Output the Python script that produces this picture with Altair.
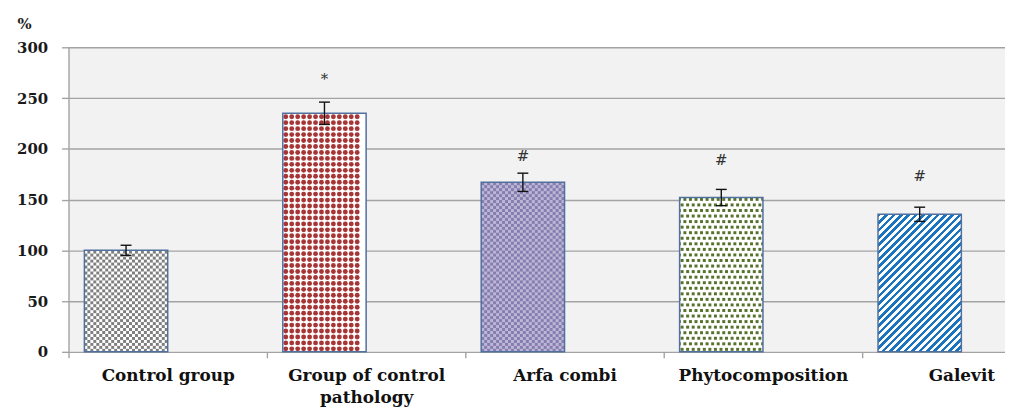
import altair as alt
import pandas as pd
import numpy as np

# ---------------- data ----------------
groups = ["Control group", "Group of control pathology", "Arfa combi",
          "Phytocomposition", "Galevit"]
label_lines = [["Control group"], ["Group of control", "pathology"], ["Arfa combi"],
               ["Phytocomposition"], ["Galevit"]]
means = [100, 235, 167, 152, 135.5]
errors = [5, 11, 9, 8, 7]
sig_marks = ["", "*", "#", "#", "#"]
sig_y = [0, 269, 193, 189, 173]
y_ticks = [0, 50, 100, 150, 200, 250, 300]

# ---------------- style ----------------
W, H = 944, 307
RANGE_X = 1000.0                # 5 categories of 200 px (the right edge is cut off)
PX_X = RANGE_X / len(groups)    # px per category unit
PX_Y = H / 300.0                # px per y unit
BAR_L, BAR_R = 0.08, 0.50       # bar sits in the left half of each category
SERIF = "DejaVu Serif"
GRID = "#a3a3a3"
OUTLINE = "#50709f"

n = len(groups)
xl = [i + BAR_L for i in range(n)]
xr = [i + BAR_R for i in range(n)]
xc = [(a + b) / 2 for a, b in zip(xl, xr)]
cap = 5.5 / PX_X

bars = pd.DataFrame({
    "group": groups, "mean": means, "base": [0] * n,
    "xl": xl, "xr": xr, "xc": xc,
    "lo": [m - e for m, e in zip(means, errors)],
    "hi": [m + e for m, e in zip(means, errors)],
    "cl": [c - cap for c in xc], "cr": [c + cap for c in xc],
    "fill": ["#ffffff", "#ffffff", "#bdb7d6", "#ffffff", "#ffffff"],
    "sig": sig_marks, "sig_y": sig_y,
})

# ---------------- pattern cells (built from the bar values) ----------------
cells = []


def checker(i, cell, color):
    x0, x1, top = xl[i], xr[i], means[i]
    for r in range(int(np.ceil(top * PX_Y / cell))):
        for c in range(int(np.ceil((x1 - x0) * PX_X / cell))):
            if (r + c) % 2:
                continue
            xa = x0 + c * cell / PX_X
            ya = r * cell / PX_Y
            cells.append(dict(x=xa, x2=min(x1, xa + cell / PX_X),
                              y=ya, y2=min(top, ya + cell / PX_Y), c=color))


def stagger_squares(i, size, period, color):
    x0, x1, top = xl[i], xr[i], means[i]
    for r in range(int(np.ceil(top * PX_Y / period))):
        off = period / 2 if r % 2 else 0
        for c in range(-1, int(np.ceil((x1 - x0) * PX_X / period)) + 1):
            xa = x0 + (c * period + off + 1) / PX_X
            xb = xa + size / PX_X
            xa, xb = max(xa, x0), min(xb, x1)
            if xb <= xa:
                continue
            ya = (r * period + 1) / PX_Y
            yb = min(top, ya + size / PX_Y)
            if yb <= ya:
                continue
            cells.append(dict(x=xa, x2=xb, y=ya, y2=yb, c=color))


checker(0, 3.0, "#7f7f7f")
checker(2, 3.0, "#857db0")
stagger_squares(3, 3.0, 5.6, "#56722c")
cells = pd.DataFrame(cells)

circles = []
x0, x1, top = xl[1], xr[1], means[1]
period = 6.0
for r in range(int(top * PX_Y / period)):
    for c in range(int((x1 - x0) * PX_X / period)):
        circles.append(dict(x=x0 + (c * period + 3.0) / PX_X,
                            y=(r * period + 3.0) / PX_Y))
circles = pd.DataFrame(circles)

# diagonal stripes for Galevit, as a hard-stop gradient in the bar's box
gw, gh = (BAR_R - BAR_L) * PX_X, means[4] * PX_Y
s = (gw + gh) / (gw ** 2 + gh ** 2)
n_str = 30
stops = []
for k in range(n_str):
    a, m, b = k / n_str, (k + 0.5) / n_str, (k + 1) / n_str
    stops += [alt.GradientStop(offset=a, color="#1b74c0"),
              alt.GradientStop(offset=m, color="#1b74c0"),
              alt.GradientStop(offset=m, color="#ffffff"),
              alt.GradientStop(offset=b, color="#ffffff")]
stripes = alt.LinearGradient(gradient="linear", stops=stops,
                             x1=0, y1=0, x2=s * gw, y2=s * gh)

# ---------------- scales / encodings ----------------
yscale = alt.Scale(domain=[0, 300], nice=False, zero=True)
xq = alt.Scale(domain=[0, n], range=[0, RANGE_X], nice=False, zero=False)
xb = alt.Scale(domain=groups, range=[0, RANGE_X], paddingInner=0, paddingOuter=0)

label_expr = " : ".join(
    [f"datum.label == '{g}' ? {ll}" for g, ll in zip(groups, label_lines)]
) + " : datum.label"

y_axis = alt.Axis(values=y_ticks, grid=True, gridColor=GRID, gridWidth=1.4,
                  domainColor=GRID, domainWidth=1.4, tickColor=GRID, tickWidth=1.4,
                  tickSize=7, labelFont=SERIF, labelFontWeight="bold",
                  labelFontSize=15, labelColor="#1a1a1a", labelPadding=14,
                  title="%", titleAngle=0, titleFont=SERIF,
                  titleFontWeight="bold", titleFontSize=15, titleColor="#1a1a1a",
                  titleAlign="left", titleBaseline="middle", titleX=-52, titleY=-24)

axis_layer = alt.Chart(bars).mark_point(opacity=0).encode(
    x=alt.X("group:N", scale=xb, sort=groups,
            axis=alt.Axis(title="", domain=False, grid=False, tickBand="extent",
                          tickColor=GRID, tickWidth=1.4,
                          tickSize=6, labelAngle=0, labelFont=SERIF,
                          labelFontWeight="bold", labelFontSize=17,
                          labelColor="#111111", labelPadding=10,
                          labelLimit=400, labelLineHeight=22,
                          labelExpr=label_expr)),
    y=alt.Y("mean:Q", scale=yscale, axis=y_axis),
)

base_bars = alt.Chart(bars).mark_rect().encode(
    x=alt.X("xl:Q", scale=xq, axis=None), x2="xr:Q",
    y=alt.Y("mean:Q", scale=yscale), y2="base:Q",
    fill=alt.Fill("fill:N", scale=None),
)

pattern_rects = alt.Chart(cells).mark_rect().encode(
    x=alt.X("x:Q", scale=xq, axis=None), x2="x2:Q",
    y=alt.Y("y:Q", scale=yscale), y2="y2:Q",
    fill=alt.Fill("c:N", scale=None),
)

pattern_dots = alt.Chart(circles).mark_circle(size=24, opacity=1, color="#a73535").encode(
    x=alt.X("x:Q", scale=xq, axis=None),
    y=alt.Y("y:Q", scale=yscale),
)

galevit = alt.Chart(bars).transform_filter(
    alt.datum.group == "Galevit"
).mark_rect(fill=stripes).encode(
    x=alt.X("xl:Q", scale=xq, axis=None), x2="xr:Q",
    y=alt.Y("mean:Q", scale=yscale), y2="base:Q",
)

outlines = alt.Chart(bars).mark_rect(fillOpacity=0, stroke=OUTLINE, strokeWidth=1.5).encode(
    x=alt.X("xl:Q", scale=xq, axis=None), x2="xr:Q",
    y=alt.Y("mean:Q", scale=yscale), y2="base:Q",
)

err_line = alt.Chart(bars).mark_rule(color="#111111", strokeWidth=1.4).encode(
    x=alt.X("xc:Q", scale=xq, axis=None),
    y=alt.Y("lo:Q", scale=yscale), y2="hi:Q",
)
err_top = alt.Chart(bars).mark_rule(color="#111111", strokeWidth=1.4).encode(
    x=alt.X("cl:Q", scale=xq, axis=None), x2="cr:Q",
    y=alt.Y("hi:Q", scale=yscale),
)
err_bot = alt.Chart(bars).mark_rule(color="#111111", strokeWidth=1.4).encode(
    x=alt.X("cl:Q", scale=xq, axis=None), x2="cr:Q",
    y=alt.Y("lo:Q", scale=yscale),
)

sig = alt.Chart(bars).transform_filter(alt.datum.sig != "").mark_text(
    font=SERIF, fontSize=15, color="#333333", baseline="middle", align="center"
).encode(
    x=alt.X("xc:Q", scale=xq, axis=None),
    y=alt.Y("sig_y:Q", scale=yscale),
    text="sig:N",
)

chart = alt.layer(
    axis_layer, base_bars, pattern_rects, pattern_dots, galevit, outlines,
    err_line, err_top, err_bot, sig,
).resolve_scale(x="independent").properties(
    width=W, height=H,
    autosize=alt.AutoSizeParams(type="none"),
    padding={"left": 61, "top": 38, "right": 0, "bottom": 56},
    background="#ffffff",
).configure_view(fill="#f2f2f2", stroke=None)

chart.save("out.html", embed_options={"renderer": "svg", "actions": False})
